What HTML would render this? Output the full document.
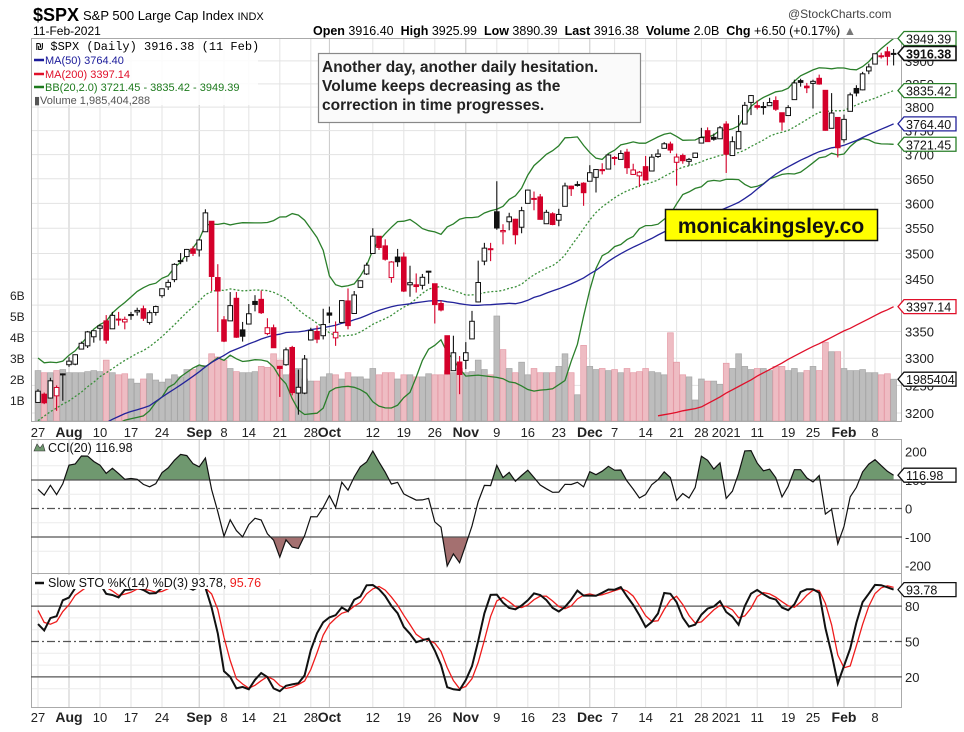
<!DOCTYPE html>
<html><head><meta charset="utf-8"><style>
html,body{margin:0;padding:0;background:#fff;}
svg{display:block;font-family:"Liberation Sans",Arial,sans-serif;}
.pre{white-space:pre;}
</style></head><body>
<svg id="chart" width="964" height="732" viewBox="0 0 964 732" xmlns="http://www.w3.org/2000/svg">
<defs>
<clipPath id="cpMain"><rect x="31" y="38" width="871" height="383"/></clipPath>
<clipPath id="cpCci"><rect x="31" y="439" width="871" height="134"/></clipPath>
<clipPath id="cpSto"><rect x="31" y="574" width="871" height="134"/></clipPath>
<clipPath id="cpAbove"><rect x="31" y="439" width="871" height="41"/></clipPath>
<clipPath id="cpBelow"><rect x="31" y="537" width="871" height="36"/></clipPath>
</defs>
<rect x="0" y="0" width="964" height="732" fill="#fff"/>
<text x="33" y="21" font-size="18" font-weight="bold">$SPX</text>
<text x="83" y="20" font-size="13">S&amp;P 500 Large Cap Index <tspan font-size="11">INDX</tspan></text>
<text x="33" y="35" font-size="12">11-Feb-2021</text>
<text x="788" y="18" font-size="12" fill="#444">@StockCharts.com</text>
<text x="313" y="35" font-size="12.5" class="pre"><tspan font-weight="bold">Open</tspan> 3916.40  <tspan font-weight="bold">High</tspan> 3925.99  <tspan font-weight="bold">Low</tspan> 3890.39  <tspan font-weight="bold">Last</tspan> 3916.38  <tspan font-weight="bold">Volume</tspan> 2.0B  <tspan font-weight="bold">Chg</tspan> +6.50 (+0.17%) <tspan fill="#777">▲</tspan></text>
<g id="grid"></g>
<g id="vol" clip-path="url(#cpMain)"></g>
<g id="lines" clip-path="url(#cpMain)"></g>
<g id="candles" clip-path="url(#cpMain)"></g>
<g id="cci"></g>
<g id="sto"></g>
<g id="axes"></g>
<g>
<rect x="32" y="39" width="226" height="66" fill="#fff" opacity="0.85"/>
<text x="36" y="50" font-size="12" font-family="Liberation Mono, DejaVu Sans Mono, monospace">₪ $SPX (Daily) 3916.38 (11 Feb)</text>
<line x1="34" y1="60" x2="44" y2="60" stroke="#1a1a9a" stroke-width="2.5"/>
<text x="45" y="64" font-size="11" fill="#1a1a9a">MA(50) 3764.40</text>
<line x1="34" y1="74" x2="44" y2="74" stroke="#e0102a" stroke-width="2.5"/>
<text x="45" y="78" font-size="11" fill="#e0102a">MA(200) 3397.14</text>
<line x1="34" y1="87" x2="44" y2="87" stroke="#1d7a1d" stroke-width="2.5"/>
<text x="45" y="91" font-size="11" fill="#1d7a1d">BB(20,2.0) 3721.45 - 3835.42 - 3949.39</text>
<text x="34" y="104" font-size="11" fill="#555">▮Volume 1,985,404,288</text>
</g>
<g>
<rect x="318.5" y="53.5" width="322" height="69" fill="#fafafa" stroke="#888" stroke-width="1.2"/>
<text x="322" y="72" font-size="15.5" font-weight="bold" fill="#222">Another day, another daily hesitation.</text>
<text x="322" y="91" font-size="15.5" font-weight="bold" fill="#222">Volume keeps decreasing as the</text>
<text x="322" y="110" font-size="15.5" font-weight="bold" fill="#222">correction in time progresses.</text>
</g>
<g>
<rect x="665.5" y="209.5" width="212" height="31" fill="#ffff00" stroke="#111" stroke-width="1.5"/>
<text x="771" y="233" font-size="21" font-weight="bold" text-anchor="middle" fill="#111">monicakingsley.co</text>
</g>
<g id="tags"></g>
</svg>
<script>
// ---------- data ----------
const preCloses=[2922,2972,2949,2955,2992,3036,3030,3044,3055,3080,3122,3112,3194,3232,3207,3190,3002,3041,3067,3125,3113,3115,3098,3118,3131,3050,3084,3009,3053,3100,3115,3130,3180,3145,3170,3152,3185,3155,3197,3227,3215,3225,3251,3257,3276,3236,3216];
const opens=[3219,3234,3227,3231,3270,3288,3289,3317,3323,3340,3356,3370,3355,3372,3368,3380,3387,3393,3367,3386,3418,3435,3449,3486,3494,3509,3507,3543,3564,3453,3372,3370,3413,3353,3364,3407,3411,3346,3357,3285,3288,3320,3236,3236,3334,3350,3342,3385,3338,3367,3408,3384,3434,3460,3500,3534,3515,3453,3493,3493,3439,3439,3438,3464,3441,3403,3342,3277,3293,3296,3336,3406,3485,3508,3583,3543,3563,3568,3552,3600,3610,3613,3559,3579,3566,3594,3635,3638,3641,3645,3653,3669,3670,3694,3690,3705,3659,3656,3675,3666,3696,3713,3722,3684,3698,3686,3694,3724,3750,3736,3733,3764,3698,3712,3764,3810,3803,3801,3803,3814,3788,3782,3816,3857,3845,3851,3862,3836,3755,3778,3731,3791,3840,3837,3878,3893,3910,3920,3916.4];
const highs=[3243,3237,3264,3250,3272,3302,3307,3331,3351,3352,3363,3381,3387,3387,3378,3387,3395,3399,3390,3399,3432,3449,3481,3501,3509,3514,3529,3588,3564,3479,3379,3425,3425,3368,3402,3419,3428,3375,3363,3286,3320,3323,3279,3306,3357,3361,3393,3397,3369,3409,3432,3427,3447,3482,3550,3534,3528,3485,3509,3502,3476,3461,3460,3466,3441,3409,3342,3342,3304,3330,3389,3486,3521,3521,3645,3558,3581,3569,3593,3628,3624,3619,3587,3582,3589,3642,3636,3645,3643,3678,3670,3682,3701,3697,3709,3712,3681,3666,3697,3701,3711,3726,3727,3702,3702,3693,3704,3756,3757,3744,3760,3770,3738,3783,3811,3826,3814,3811,3820,3823,3788,3804,3859,3861,3852,3859,3870,3836,3830,3778,3784,3831,3847,3876,3894,3916,3918,3931,3926];
const lows=[3219,3216,3226,3204,3222,3284,3287,3317,3319,3329,3333,3327,3355,3361,3354,3372,3380,3370,3363,3380,3414,3429,3444,3479,3484,3495,3494,3543,3427,3349,3330,3371,3338,3331,3364,3388,3383,3343,3323,3229,3286,3232,3197,3234,3333,3328,3335,3366,3323,3367,3354,3384,3434,3458,3500,3507,3486,3443,3474,3425,3416,3424,3430,3441,3365,3388,3270,3277,3234,3280,3336,3405,3477,3485,3547,3518,3546,3518,3540,3600,3586,3567,3559,3556,3554,3594,3615,3634,3595,3645,3622,3659,3670,3678,3690,3660,3658,3633,3648,3666,3693,3713,3703,3636,3681,3677,3694,3724,3727,3729,3733,3662,3698,3712,3764,3783,3795,3784,3803,3792,3750,3782,3816,3844,3830,3797,3848,3750,3755,3694,3725,3791,3823,3836,3871,3893,3905,3890,3890];
const closes=[3239.4,3218.4,3258.4,3246.2,3271.1,3294.6,3306.5,3327.8,3349.2,3351.3,3360.5,3333.7,3380.4,3373.4,3372.9,3382,3389.8,3374.9,3385.5,3397.2,3431.3,3443.6,3478.7,3484.6,3508,3500.3,3526.7,3580.8,3455.1,3427,3331.8,3399,3339.2,3341,3383.5,3401.2,3385.5,3357,3319.5,3281.1,3315.6,3236.9,3246.6,3298.5,3351.6,3335.5,3363,3380.8,3348.4,3408.6,3361,3419.4,3446.8,3477.1,3534.2,3511.9,3488.7,3483.3,3483.8,3426.9,3443.1,3435.6,3453.5,3465.4,3401,3390.7,3271,3310.1,3270,3310.2,3369.2,3443.4,3510.5,3509.4,3550.5,3545.5,3572.7,3537,3585.2,3626.9,3609.5,3567.8,3581.9,3557.5,3577.6,3635.4,3629.7,3638.4,3621.6,3662.5,3669,3666.7,3699.1,3692,3702.3,3672.8,3668.1,3663.5,3647.5,3694.6,3701.2,3722.5,3709.4,3694.9,3687.3,3690,3703.1,3735.4,3727,3732,3756.1,3700.7,3726.9,3748.1,3803.8,3824.7,3799.6,3801.2,3809.8,3795.5,3768.3,3798.9,3851.9,3853.1,3841.5,3855.4,3849.6,3750.8,3787.4,3714.2,3773.9,3826.3,3830.2,3871.7,3886.8,3915.6,3911.2,3909.9,3916.38];
const volumes=[2.4,2.3,2.3,2.4,2.45,2.3,2.3,2.3,2.35,2.4,2.35,2.9,2.3,2.2,2.25,2.0,1.8,2.0,2.25,1.95,1.85,2.0,2.2,2.1,2.45,2.45,2.6,2.65,3.2,3.05,2.9,2.5,2.35,2.3,2.3,2.35,2.6,2.55,3.2,2.9,2.2,2.25,2.5,2.0,1.9,1.9,2.1,2.25,2.2,2.0,2.3,2.1,2.1,2.0,2.5,2.2,2.3,2.3,2.0,2.2,2.2,2.1,2.1,2.25,2.2,2.2,2.4,2.3,2.5,2.3,2.35,2.9,2.45,2.2,5.0,3.4,2.5,2.3,2.8,2.2,2.5,2.3,2.3,2.3,2.6,3.2,2.3,1.25,3.6,2.6,2.45,2.5,2.4,2.45,2.3,2.5,2.3,2.35,2.5,2.35,2.3,2.2,4.2,2.8,2.2,2.1,1.0,2.0,1.9,1.9,1.75,2.75,2.5,3.2,2.6,2.45,2.5,2.5,2.4,2.6,2.6,2.4,2.5,2.3,2.4,2.6,2.4,3.75,3.3,3.3,2.5,2.4,2.4,2.45,2.3,2.3,2.2,2.25,1.99];
const ma200Start=100;
const ma200Vals=[3195,3197,3199,3201,3204,3206,3208,3211,3217,3223,3229,3236,3242,3248,3254,3260,3267,3273,3279,3285,3291,3298,3304,3310,3316,3322,3327,3333,3339,3345,3351,3356,3362,3368,3374,3380,3386,3391,3397];
const dateIdx=[0,5,10,15,20,26,30,34,39,44,47,54,59,64,69,74,79,84,89,93,98,103,107,111,116,121,125,130,135];
const dateLbl=["27","Aug","10","17","24","Sep","8","14","21","28","Oct","12","19","26","Nov","9","16","23","Dec","7","14","21","28","2021","11","19","25","Feb","8"];
const priceTicks=[3200,3250,3300,3350,3400,3450,3500,3550,3600,3650,3700,3750,3800,3850,3900];
const volTicks=[1,2,3,4,5,6];
const cciTicks=[200,100,0,-100,-200];
const stoTicks=[80,50,20];

// ---------- scales ----------
const NS="http://www.w3.org/2000/svg";
function X(i){return 38+i*6.2;}
function Y(p){return 413-1780*Math.log(p/3200);}
function VY(v){return 421-21*v;}
function CY(c){return 508.5-c*0.285;}
function SY(s){return 700.5-s*1.18;}
function mk(tag,attrs,parent){const e=document.createElementNS(NS,tag);for(const k in attrs)e.setAttribute(k,attrs[k]);parent.appendChild(e);return e;}
const N=closes.length;
const g=id=>document.getElementById(id);

// ---------- grid ----------
const grid=g('grid');
[[38,421],[439,573],[574,708]].forEach(([t,b])=>{
  dateIdx.forEach((di,k)=>{
    const month=isNaN(+dateLbl[k]);
    const ln=mk('line',{x1:X(di),x2:X(di),y1:t,y2:b,stroke:month?'#c8c8c8':'#e3e3e3','stroke-width':1},grid);
    
    
  });
});
priceTicks.forEach(p=>{const ln=mk('line',{x1:31,x2:902,y1:Y(p),y2:Y(p),stroke:'#e3e3e3'},grid);

});
[150,50,-50,-150].forEach(c=>{const ln=mk('line',{x1:31,x2:902,y1:CY(c),y2:CY(c),stroke:'#ececec'},grid);

});
[10,30,40,60,70,90].forEach(s=>{const ln=mk('line',{x1:31,x2:902,y1:SY(s),y2:SY(s),stroke:'#ececec'},grid);

});

// ---------- volume ----------
const vol=g('vol');
for(let i=0;i<N;i++){
  const down=i>0&&closes[i]<closes[i-1];
  const r=mk('rect',{x:X(i)-2.9,y:VY(volumes[i]),width:5.8,height:421-VY(volumes[i]),fill:down?'#eebcc3':'#bdbdbd',stroke:down?'#e49aa6':'#a6a6a6','stroke-width':0.7},vol);
  
  
}

// ---------- indicators ----------
const allC=preCloses.concat(closes);
const P=preCloses.length;
const ma50=[],bbU=[],bbM=[],bbL=[];
for(let i=0;i<N;i++){
  const j=P+i;
  let s=0;for(let k=j-49;k<=j;k++)s+=allC[Math.max(k,0)];ma50.push(s/50);
  let m=0;for(let k=j-19;k<=j;k++)m+=allC[k];m/=20;
  let v=0;for(let k=j-19;k<=j;k++)v+=(allC[k]-m)**2;const sd=Math.sqrt(v/20);
  bbM.push(m);bbU.push(m+2*sd);bbL.push(m-2*sd);
}
const lines=g('lines');
function poly(vals,off,parent,fx,fy,attrs,name){
  const pts=vals.map((v,k)=>fx(k+off).toFixed(1)+','+fy(v).toFixed(1)).join(' ');
  const a=Object.assign({points:pts,fill:'none'},attrs);
  const e=mk('polyline',a,parent);
  
  
  return e;
}
poly(bbU,0,lines,X,Y,{stroke:'#2a7f2a','stroke-width':1.3},'bb-upper');
poly(bbL,0,lines,X,Y,{stroke:'#2a7f2a','stroke-width':1.3},'bb-lower');
poly(bbM,0,lines,X,Y,{stroke:'#3a8f3a','stroke-width':1.3,'stroke-dasharray':'2,2'},'bb-middle');
poly(ma50,0,lines,X,Y,{stroke:'#23239a','stroke-width':1.3},'ma50-line');
poly(ma200Vals,ma200Start,lines,X,Y,{stroke:'#e0102a','stroke-width':1.3},'ma200-line');

// ---------- candles ----------
const cg=g('candles');
for(let i=0;i<N;i++){
  const up=i===0||closes[i]>=closes[i-1];
  const col=up?'#111':'#d4002a';
  const w=mk('line',{x1:X(i),x2:X(i),y1:Y(highs[i]),y2:Y(lows[i]),stroke:col,'stroke-width':1.1},cg);
  
  
  const top=Y(Math.max(opens[i],closes[i])),bot=Y(Math.min(opens[i],closes[i]));
  const hollow=closes[i]>opens[i];
  const b=mk('rect',{x:X(i)-2.3,y:top,width:4.6,height:Math.max(bot-top,1),fill:hollow?'#fff':col,stroke:col,'stroke-width':1},cg);
  
  
}

// ---------- CCI ----------
const allTP=preCloses.concat(closes.map((c,i)=>(highs[i]+lows[i]+c)/3));
const cci=[];
for(let i=0;i<N;i++){
  const j=P+i;let m=0;for(let k=j-19;k<=j;k++)m+=allTP[k];m/=20;
  let md=0;for(let k=j-19;k<=j;k++)md+=Math.abs(allTP[k]-m);md/=20;
  cci.push((allTP[j]-m)/(0.015*md));
}
const cg2=g('cci');
const cciFrame=mk('rect',{x:31.5,y:439.5,width:870,height:134,fill:'none',stroke:'#aaa'},cg2);


const ptsC=cci.map((v,k)=>X(k).toFixed(1)+','+CY(v).toFixed(1)).join(' ');
const fillA=mk('polygon',{points:X(0)+','+CY(100)+' '+ptsC+' '+X(N-1)+','+CY(100),fill:'#6f986f','clip-path':'url(#cpAbove)'},cg2);


const fillB=mk('polygon',{points:X(0)+','+CY(-100)+' '+ptsC+' '+X(N-1)+','+CY(-100),fill:'#a47070','clip-path':'url(#cpBelow)'},cg2);


[[100,''],[-100,''],[0,'8,3,2,3']].forEach(([v,d])=>{const ln=mk('line',{x1:31,x2:902,y1:CY(v),y2:CY(v),stroke:'#555','stroke-width':1.2,'stroke-dasharray':d},cg2);

});
const cl=mk('g',{'clip-path':'url(#cpCci)'},cg2);
poly(cci,0,cl,X,CY,{stroke:'#111','stroke-width':1.2},'cci-line');

// ---------- Slow STO ----------
const allH=preCloses.concat(highs),allL=preCloses.concat(lows);
const fastK=[];
for(let j=0;j<allC.length;j++){
  if(j<13){fastK.push(50);continue;}
  let hh=-1e9,ll=1e9;for(let k=j-13;k<=j;k++){hh=Math.max(hh,allH[k]);ll=Math.min(ll,allL[k]);}
  fastK.push(hh===ll?50:(allC[j]-ll)/(hh-ll)*100);
}
const slowAll=fastK.map((v,j)=>j<2?v:(fastK[j]+fastK[j-1]+fastK[j-2])/3);
const dAll=slowAll.map((v,j)=>j<2?v:(slowAll[j]+slowAll[j-1]+slowAll[j-2])/3);
const slowK=slowAll.slice(P),slowD=dAll.slice(P);
const sg=g('sto');
const stoFrame=mk('rect',{x:31.5,y:573.5,width:870,height:134,fill:'none',stroke:'#aaa'},sg);


[[80,''],[20,''],[50,'8,3,2,3']].forEach(([v,d])=>{const ln=mk('line',{x1:31,x2:902,y1:SY(v),y2:SY(v),stroke:'#555','stroke-width':1.2,'stroke-dasharray':d},sg);

});
const sl=mk('g',{'clip-path':'url(#cpSto)'},sg);
poly(slowD,0,sl,X,SY,{stroke:'#ee1c1c','stroke-width':1.3},'sto-d-line');
poly(slowK,0,sl,X,SY,{stroke:'#111','stroke-width':2},'sto-k-line');

// ---------- axes / labels ----------
const ax=g('axes');
const mainFrame=mk('rect',{x:31.5,y:38.5,width:870,height:383,fill:'none',stroke:'#aaa'},ax);


priceTicks.forEach(p=>{const t=mk('text',{x:905,y:Y(p)+5,'font-size':13,fill:'#222'},ax);t.textContent=p;

});
volTicks.forEach(v=>{const t=mk('text',{x:10,y:VY(v)+5,'font-size':12,fill:'#222'},ax);t.textContent=v+'B';

});
cciTicks.forEach(v=>{const t=mk('text',{x:905,y:CY(v)+5,'font-size':13,fill:'#222'},ax);t.textContent=v;

});
stoTicks.forEach(v=>{const t=mk('text',{x:905,y:SY(v)+5,'font-size':13,fill:'#222'},ax);t.textContent=v;

});
[437,722].forEach(yy=>{
  dateIdx.forEach((di,k)=>{
    const month=isNaN(+dateLbl[k]);
    const t=mk('text',{x:X(di),y:yy,'font-size':month?14:13,'font-weight':month?'bold':'normal','text-anchor':'middle',fill:'#222'},ax);
    t.textContent=dateLbl[k];
    
    
  });
});
// indicator legends
const cleg=mk('g',{},ax);


mk('polygon',{points:'34,451 37,444 40,448 43,444 45,451',fill:'#6f986f',stroke:'#333','stroke-width':0.6},cleg);
const ct=mk('text',{x:48,y:452,'font-size':12.5,fill:'#111'},cleg);ct.textContent='CCI(20) 116.98';
const sleg=mk('g',{},ax);


mk('rect',{x:32,y:575,width:280,height:14,fill:'#fff'},sleg);
mk('line',{x1:35,x2:44,y1:583,y2:583,stroke:'#111','stroke-width':2.5},sleg);
const st=mk('text',{x:48,y:587,'font-size':12.5,fill:'#111'},sleg);
st.innerHTML='Slow STO %K(14) %D(3) 93.78, <tspan fill="#ee1c1c">95.76</tspan>';

// ---------- value tags ----------
const tg=g('tags');
function tag(y,label,color,bold,name){
  const gg=mk('g',{},tg);
  
  
  mk('path',{d:`M898,${y} l6,-7 h52 v14 h-52 z`,fill:'#fff',stroke:color,'stroke-width':bold?1.6:1.3},gg);
  const t=mk('text',{x:906,y:y+5,'font-size':12.5,'font-weight':bold?'bold':'normal',fill:'#111'},gg);
  t.textContent=label;
}
tag(Y(bbU[N-1]),'3949.39','#2a7f2a',false,'bb-upper-tag');
tag(Y(closes[N-1]),'3916.38','#111',true,'last-price-tag');
tag(Y(bbM[N-1]),'3835.42','#2a7f2a',false,'bb-middle-tag');
tag(Y(ma50[N-1]),'3764.40','#23239a',false,'ma50-tag');
tag(Y(bbL[N-1]),'3721.45','#2a7f2a',false,'bb-lower-tag');
tag(Y(ma200Vals[ma200Vals.length-1]),'3397.14','#e0102a',false,'ma200-tag');
tag(VY(volumes[N-1]),'1985404','#111',false,'volume-tag');
tag(CY(cci[N-1]),'116.98','#111',false,'cci-tag');
tag(SY(slowK[N-1]),'93.78','#111',false,'sto-tag');
</script>
</body></html>
